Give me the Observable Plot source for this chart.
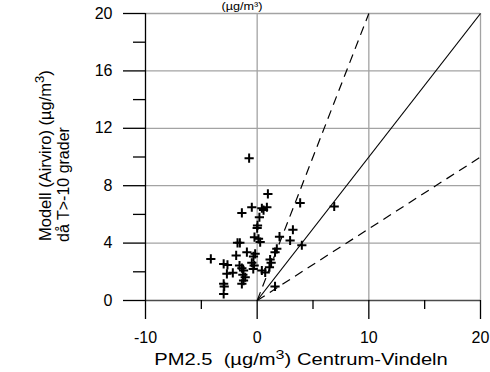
<!DOCTYPE html>
<html><head><meta charset="utf-8">
<script src="https://cdn.jsdelivr.net/npm/d3@7"></script>
<script src="https://cdn.jsdelivr.net/npm/@observablehq/plot@0.6"></script>
<style>
body{margin:0;background:#fff;font-family:"Liberation Sans",Arial,sans-serif;}
#wrap{position:relative;width:490px;height:372px;overflow:hidden;background:#fff;}
#wrap svg{position:absolute;left:0;top:0;}
.lab{position:absolute;white-space:nowrap;color:#000;line-height:1;}
.lab sup{font-size:0.8em;vertical-align:0.5em;line-height:0;}
</style></head><body><div id="wrap"></div>
<script>
// Measured PM2.5 Centrum-Vindeln (x) and modelled Airviro (y), µg/m³
const obsX = [-0.72, 0.96, 3.85, 6.9, -1.37, -0.48, 0.42, 0.87, 0.57, 0.2,
  0.03, 0.0, -0.24, 0.12, 0.27, -1.76, -1.55, 2.0, 2.95, 3.2,
  4.0, -4.15, -1.88, -0.92, -0.18, -0.33, 1.76, 1.6, -3.0, -2.66,
  -1.58, -1.37, -1.22, -0.48, -0.27, 1.16, 1.25, 1.1, 0.42, 0.72,
  -2.71, -2.18, -1.28, -1.07, -1.22, -3.0, -2.95, -1.37, 1.6, -3.0,
  -0.35];
const modelY = [9.92, 7.43, 6.8, 6.55, 6.1, 6.5, 6.43, 6.5, 6.3, 5.8,
  5.23, 5.05, 4.41, 4.3, 4.07, 4.02, 4.02, 4.45, 4.18, 4.93,
  3.85, 2.9, 3.14, 3.37, 3.25, 3.07, 3.6, 3.37, 2.55, 2.48,
  2.44, 2.25, 2.09, 2.63, 2.44, 2.85, 2.63, 2.32, 2.09, 1.95,
  1.86, 1.93, 1.79, 1.62, 1.39, 1.16, 0.98, 1.16, 0.98, 0.46,
  2.2];
const xTicks = [-10, 0, 10, 20];
const xMinor = [-5, 5, 15];
const yTicks = [0, 4, 8, 12, 16, 20];
const yMinor = [2, 6, 10, 14, 18];
const xDomain = [-10, 20];
const yDomain = [0, 20];
const refSlopes = [1, 2, 0.5];
const refDashed = [false, true, true];

const refLines = refSlopes.map((s, i) => {
  const xe = Math.min(xDomain[1], yDomain[1] / s);
  return {slope: s, dashed: refDashed[i], x2: xe, y2: s * xe};
});
const pts = obsX.map((x, i) => ({x, y: modelY[i]}));

const crossSym = {
  draw(ctx, size) {
    const r = Math.sqrt(size / Math.PI);
    ctx.moveTo(-r, 0); ctx.lineTo(r, 0);
    ctx.moveTo(0, -r); ctx.lineTo(0, r);
  }
};

const chart = Plot.plot({
  width: 490, height: 372,
  marginLeft: 145, marginRight: 10, marginTop: 13, marginBottom: 72,
  x: {domain: xDomain},
  y: {domain: yDomain},
  style: {fontFamily: '"Liberation Sans", Arial, sans-serif', fontSize: "16px", color: "#000", background: "transparent", overflow: "visible"},
  marks: [
    Plot.ruleY(yTicks.filter(d => d > yDomain[0]), {stroke: "#a3a3a3", strokeWidth: 1.3}),
    Plot.ruleX(xTicks.filter(d => d > xDomain[0]), {stroke: "#a3a3a3", strokeWidth: 1.3}),
    Plot.ruleY([yDomain[0]], {stroke: "#4a4a4a", strokeWidth: 1.6}),
    Plot.ruleX([xDomain[0]], {stroke: "#000", strokeWidth: 1.3}),
    Plot.axisX({ticks: xTicks, tickSize: 19, tickPadding: 12, tickFormat: d => String(d), label: null, strokeWidth: 1.3, stroke: "#000"}),
    Plot.axisX({ticks: xMinor, tickSize: 9, tickFormat: () => "", label: null, strokeWidth: 1.3, stroke: "#000"}),
    Plot.axisY({ticks: yTicks, tickSize: 22, tickPadding: 11, tickFormat: d => String(d), label: null, strokeWidth: 1.3, stroke: "#000"}),
    Plot.axisY({ticks: yMinor, tickSize: 12, tickFormat: () => "", label: null, strokeWidth: 1.3, stroke: "#000"}),
    Plot.link(refLines.filter(d => !d.dashed), {x1: () => 0, y1: () => 0, x2: "x2", y2: "y2", stroke: "#000", strokeWidth: 1.2}),
    Plot.link(refLines.filter(d => d.dashed), {x1: () => 0, y1: () => 0, x2: "x2", y2: "y2", stroke: "#000", strokeWidth: 1.2, strokeDasharray: "9,6"}),
    Plot.dot(pts, {x: "x", y: "y", symbol: crossSym, r: 4.6, stroke: "#000", strokeWidth: 2, fill: "none"})
  ]
});

const wrap = document.getElementById("wrap");
wrap.appendChild(chart);

function addLab(html, css) {
  const d = document.createElement("div");
  d.className = "lab";
  d.innerHTML = html;
  Object.assign(d.style, css);
  wrap.appendChild(d);
}
// top title fragment
addLab("(µg/m³)", {left: "242px", top: "1px", fontSize: "11px", transform: "translateX(-50%) scaleX(1.15)"});
// x axis title
addLab("PM2.5&nbsp; (µg/m<sup>3</sup>) Centrum-Vindeln", {left: "301px", top: "352px", fontSize: "16px", transform: "translateX(-50%) scaleX(1.26)"});
// y axis title (two lines, rotated)
addLab("Modell (Airviro) (µg/m<sup>3</sup>)", {left: "36px", top: "241px", fontSize: "16.5px", lineHeight: "18px", transformOrigin: "0 0", transform: "rotate(-90deg)"});
addLab("då T>-10 grader", {left: "55px", top: "242px", fontSize: "16px", lineHeight: "18px", transformOrigin: "0 0", transform: "rotate(-90deg)"});
</script>
</body></html>
